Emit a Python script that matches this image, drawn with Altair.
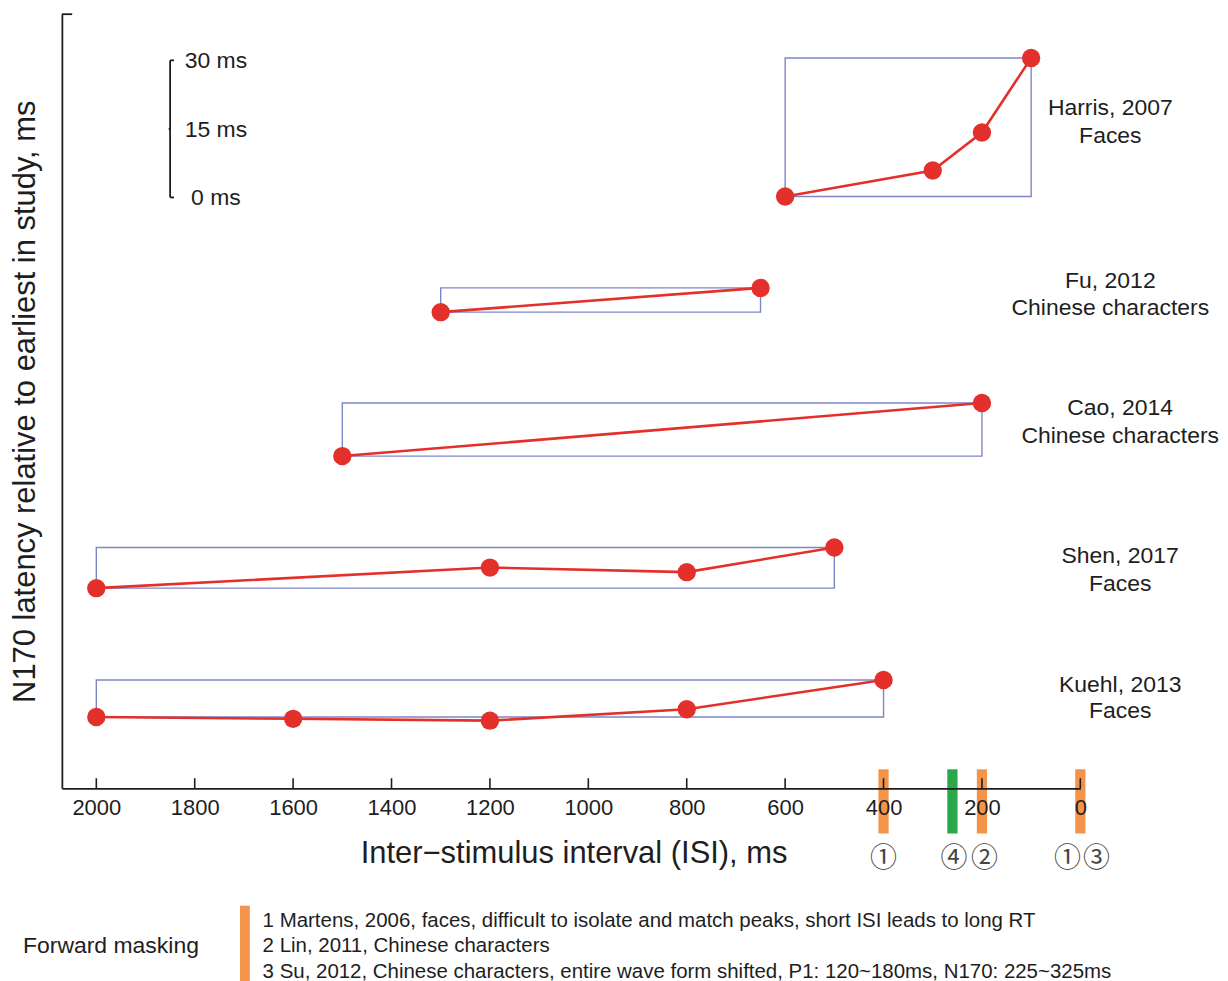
import altair as alt
import pandas as pd

# ---------------- data ----------------
study_names = ["Harris, 2007", "Fu, 2012", "Cao, 2014", "Shen, 2017", "Kuehl, 2013"]
study_stimuli = ["Faces", "Chinese characters", "Chinese characters", "Faces", "Faces"]

isi_harris = [600, 300, 200, 100]
lat_harris = [0, 5.7, 14.0, 30.3]
isi_fu = [1300, 650]
lat_fu = [0, 5.3]
isi_cao = [1500, 200]
lat_cao = [0, 11.6]
isi_shen = [2000, 1200, 800, 500]
lat_shen = [0, 4.5, 3.5, 8.9]
isi_kuehl = [2000, 1600, 1200, 800, 400]
lat_kuehl = [0, -0.4, -0.8, 1.7, 8.1]

x_tick_values = [2000, 1800, 1600, 1400, 1200, 1000, 800, 600, 400, 200, 0]

scale_bar_values = [30, 15, 0]
scale_bar_labels = ["30 ms", "15 ms", "0 ms"]

masking_isi = [400, 200, 0, 260]
masking_kind = ["forward", "forward", "forward", "other"]
marker_text = ["①", "④", "②", "①", "③"]
marker_isi = [400, 257, 195, 26, -33]

legend_title = "Forward masking"
legend_lines = [
    "1 Martens, 2006, faces, difficult to isolate and match peaks, short ISI leads to long RT",
    "2 Lin, 2011, Chinese characters",
    "3 Su, 2012, Chinese characters, entire wave form shifted, P1: 120~180ms, N170: 225~325ms",
]

# ---------------- layout (vertical stacking offsets, label positions) ----------------
baselines = [129.5, 104.2, 72.7, 43.8, 15.6]
label_x = [-61, -61, -81, -81, -81]
label_y1 = [148.9, 111.1, 83.2, 50.9, 22.7]
label_y2 = [142.7, 105.2, 77.1, 44.8, 16.8]
scale_bar_isi = 1850
scale_bar_base = 129.3
scale_label_isi = 1757

FONT = "Liberation Sans"
INK = "#1e1e1e"
RED = "#e3302b"
BLUE = "#7e86c6"
ORANGE = "#f3944a"
GREEN = "#2ba84a"

X = alt.Scale(domain=[0, 2070], reverse=True, nice=False, zero=False)
Y = alt.Scale(domain=[0, 169.4], nice=False, zero=False)

# ---------------- build tables ----------------
series = [(isi_harris, lat_harris), (isi_fu, lat_fu), (isi_cao, lat_cao),
          (isi_shen, lat_shen), (isi_kuehl, lat_kuehl)]
rows, boxes, labels = [], [], []
for name, stim, (isis, lats), base, lx, ly1, ly2 in zip(
        study_names, study_stimuli, series, baselines, label_x, label_y1, label_y2):
    for i, l in zip(isis, lats):
        rows.append({"study": name, "isi": i, "y": base + l})
    boxes.append({"study": name, "isi": max(isis), "isi2": min(isis),
                  "y": base, "y2": base + max(lats)})
    labels.append({"text": name, "isi": lx, "y": ly1})
    labels.append({"text": stim, "isi": lx, "y": ly2})
pts = pd.DataFrame(rows)
box_df = pd.DataFrame(boxes)
lab_df = pd.DataFrame(labels)

tick_df = pd.DataFrame({"isi": x_tick_values, "y": 0.0, "y2": 2.2})

sb_line = pd.DataFrame({"isi": [scale_bar_isi], "y": [scale_bar_base],
                        "y2": [scale_bar_base + max(scale_bar_values)]})
sb_ticks = pd.DataFrame({
    "isi": [scale_bar_isi] * 3,
    "isi2": [scale_bar_isi - 8, scale_bar_isi + 3, scale_bar_isi - 8],
    "y": [scale_bar_base + v for v in scale_bar_values],
})
sb_labels = pd.DataFrame({"text": scale_bar_labels, "isi": scale_label_isi,
                          "y": [scale_bar_base + v for v in scale_bar_values]})

top_hook = pd.DataFrame({"isi": [2070], "isi2": [2049], "y": [169.4]})

mask_df = pd.DataFrame({"isi": [v + 10.4 for v in masking_isi],
                        "isi2": [v - 10.4 for v in masking_isi],
                        "kind": masking_kind, "y": 4.15, "y2": -9.9})
marker_df = pd.DataFrame({"text": marker_text, "isi": marker_isi, "y": -15.5})

legend_bar = pd.DataFrame({"isi": [1708], "isi2": [1688], "y": [-25.7], "y2": [-43.5]})
legend_title_df = pd.DataFrame({"text": [legend_title], "isi": [2149], "y": [-36.0]})
legend_df = pd.DataFrame({"text": legend_lines, "isi": 1662, "y": [-30.4, -35.9, -41.5]})

x_axis = alt.Axis(
    values=x_tick_values, format="d", ticks=False, tickSize=0, grid=False,
    domain=True, domainColor=INK, domainWidth=1.8, zindex=1,
    labelFont=FONT, labelFontSize=22, labelColor=INK, labelPadding=9,
    labelFlush=False, labelOverlap=False,
    title="Inter\u2212stimulus interval (ISI), ms", titleFont=FONT, titleFontSize=31,
    titleFontWeight="normal", titleColor=INK, titleBaseline="alphabetic",
    titleY=74, titleX=513,
)
y_axis = alt.Axis(
    ticks=False, labels=False, grid=False, domain=True, domainColor=INK, domainWidth=1.8,
    zindex=1,
    title="N170 latency relative to earliest in study, ms", titleFont=FONT,
    titleFontSize=31, titleFontWeight="normal", titleColor=INK,
    titleBaseline="alphabetic", titleX=-27, titleY=388, titleAlign="center",
)


def xq(field="isi"):
    return alt.X(f"{field}:Q", scale=X, axis=x_axis)


def yq(field="y"):
    return alt.Y(f"{field}:Q", scale=Y, axis=y_axis)


mask_layer = alt.Chart(mask_df).mark_rect().encode(
    x=xq(), x2="isi2", y=yq(), y2="y2",
    color=alt.Color("kind:N", scale=alt.Scale(domain=["forward", "other"],
                                              range=[ORANGE, GREEN]), legend=None))

axis_ticks = alt.Chart(tick_df).mark_rule(color=INK, strokeWidth=1.6).encode(
    x=xq(), y=yq(), y2="y2")

hook = alt.Chart(top_hook).mark_rule(color=INK, strokeWidth=1.8).encode(
    x=xq(), x2="isi2", y=yq())

box_layer = alt.Chart(box_df).mark_rect(filled=False, color=BLUE, strokeWidth=1.4).encode(
    x=xq(), x2="isi2", y=yq(), y2="y2")

line_layer = alt.Chart(pts).mark_line(color=RED, strokeWidth=2.6).encode(
    x=xq(), y=yq(), detail="study:N")

point_layer = alt.Chart(pts).mark_circle(color=RED, size=340, opacity=1).encode(
    x=xq(), y=yq(), detail="study:N")

study_text = alt.Chart(lab_df).mark_text(
    font=FONT, fontSize=23, color=INK, align="center", baseline="middle").encode(
    x=xq(), y=yq(), text="text:N")

sb_rule = alt.Chart(sb_line).mark_rule(color=INK, strokeWidth=1.8).encode(
    x=xq(), y=yq(), y2="y2")
sb_tick = alt.Chart(sb_ticks).mark_rule(color=INK, strokeWidth=1.8).encode(
    x=xq(), x2="isi2", y=yq())
sb_text = alt.Chart(sb_labels).mark_text(
    font=FONT, fontSize=23, color=INK, align="center", baseline="middle", dy=1).encode(
    x=xq(), y=yq(), text="text:N")

marker_layer = alt.Chart(marker_df).mark_text(
    font="Noto Sans CJK SC", fontSize=27, color="#444444", align="center",
    baseline="middle").encode(x=xq(), y=yq(), text="text:N")

legend_bar_layer = alt.Chart(legend_bar).mark_rect(color=ORANGE).encode(
    x=xq(), x2="isi2", y=yq(), y2="y2")
legend_title_layer = alt.Chart(legend_title_df).mark_text(
    font=FONT, fontSize=23, color=INK, align="left", baseline="alphabetic").encode(
    x=xq(), y=yq(), text="text:N")
legend_layer = alt.Chart(legend_df).mark_text(
    font=FONT, fontSize=20.5, color=INK, align="left", baseline="alphabetic").encode(
    x=xq(), y=yq(), text="text:N")

chart = alt.layer(
    mask_layer, axis_ticks, hook, box_layer, line_layer, point_layer, study_text,
    sb_rule, sb_tick, sb_text, marker_layer,
    legend_bar_layer, legend_title_layer, legend_layer,
).properties(
    width=1021, height=776,
    autosize=alt.AutoSizeParams(type="none"),
    padding={"left": 54, "top": 5, "right": 140, "bottom": 200},
    background="white",
).configure_view(stroke=None)

chart.save("out.html", embed_options={"renderer": "svg", "actions": False})
